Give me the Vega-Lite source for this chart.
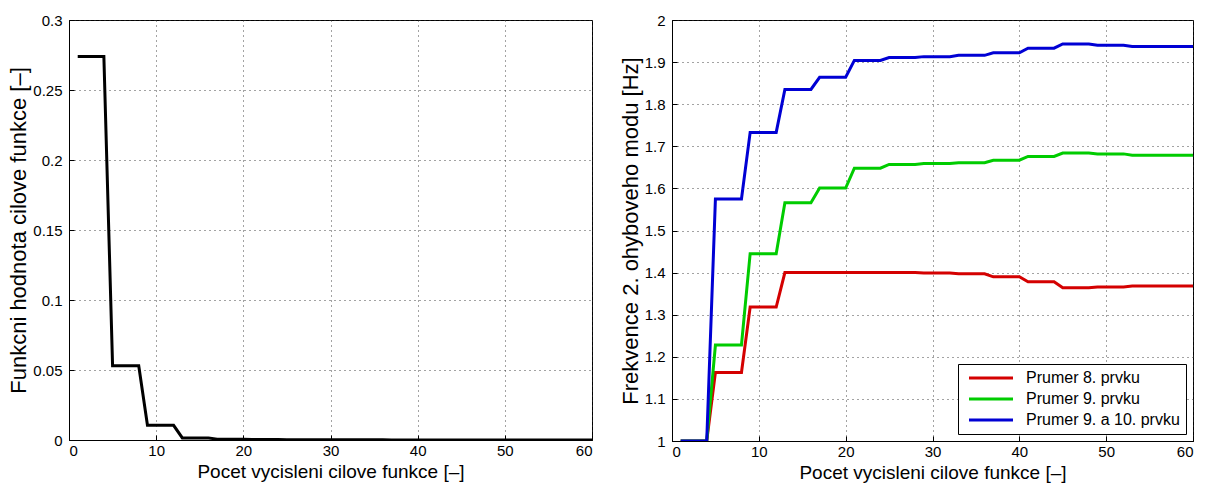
{
  "$schema": "https://vega.github.io/schema/vega-lite/v6.json",
  "background": "white",
  "padding": {"left": 7, "top": 12, "right": 5, "bottom": 0},
  "spacing": 25,
  "resolve": {"legend": {"color": "independent"}},
  "config": {
    "font": "Liberation Sans",
    "view": {"stroke": "black", "strokeWidth": 1},
    "axis": {
      "labelFont": "Liberation Sans", "labelFontSize": 15, "labelColor": "black",
      "titleFont": "Liberation Sans", "titleFontWeight": "normal", "titleColor": "black",
      "domainColor": "black", "tickColor": "black", "tickSize": -5, "labelPadding": 12,
      "gridColor": "#333", "gridDash": [1, 4], "gridOpacity": 0.9, "gridWidth": 1
    },
    "axisX": {"titleFontSize": 19, "titlePadding": 4, "labelPadding": 8},
    "axisY": {"titleFontSize": 22, "titlePadding": 2},
    "legend": {"labelFont": "Liberation Sans", "labelFontSize": 16, "labelColor": "black"}
  },
  "datasets": {
    "left": [
      {"x": 1, "v": 0.274}, {"x": 4, "v": 0.274},
      {"x": 5, "v": 0.053}, {"x": 8, "v": 0.053},
      {"x": 9, "v": 0.0105}, {"x": 12, "v": 0.0105},
      {"x": 13, "v": 0.0015}, {"x": 16, "v": 0.0015},
      {"x": 17, "v": 0.0006}, {"x": 20, "v": 0.0006},
      {"x": 21, "v": 0.0003}, {"x": 24, "v": 0.0003},
      {"x": 25, "v": 0.0002}, {"x": 28, "v": 0.0002},
      {"x": 29, "v": 0.0001}, {"x": 32, "v": 0.0001},
      {"x": 33, "v": 0.0001}, {"x": 36, "v": 0.0001},
      {"x": 37, "v": 0.00005}, {"x": 40, "v": 0.00005},
      {"x": 41, "v": 0.00003}, {"x": 44, "v": 0.00003},
      {"x": 45, "v": 0.00002}, {"x": 48, "v": 0.00002},
      {"x": 49, "v": 0.00001}, {"x": 52, "v": 0.00001},
      {"x": 53, "v": 0.00001}, {"x": 56, "v": 0.00001},
      {"x": 57, "v": 0.00001}, {"x": 60, "v": 0.00001}
    ],
    "right": [
      {"x": 1, "s": "Prumer 8. prvku", "f": 1.0}, {"x": 4, "s": "Prumer 8. prvku", "f": 1.0},
      {"x": 5, "s": "Prumer 8. prvku", "f": 1.163}, {"x": 8, "s": "Prumer 8. prvku", "f": 1.163},
      {"x": 9, "s": "Prumer 8. prvku", "f": 1.318}, {"x": 12, "s": "Prumer 8. prvku", "f": 1.318},
      {"x": 13, "s": "Prumer 8. prvku", "f": 1.4}, {"x": 16, "s": "Prumer 8. prvku", "f": 1.4},
      {"x": 17, "s": "Prumer 8. prvku", "f": 1.4}, {"x": 20, "s": "Prumer 8. prvku", "f": 1.4},
      {"x": 21, "s": "Prumer 8. prvku", "f": 1.4}, {"x": 24, "s": "Prumer 8. prvku", "f": 1.4},
      {"x": 25, "s": "Prumer 8. prvku", "f": 1.4}, {"x": 28, "s": "Prumer 8. prvku", "f": 1.4},
      {"x": 29, "s": "Prumer 8. prvku", "f": 1.399}, {"x": 32, "s": "Prumer 8. prvku", "f": 1.399},
      {"x": 33, "s": "Prumer 8. prvku", "f": 1.397}, {"x": 36, "s": "Prumer 8. prvku", "f": 1.397},
      {"x": 37, "s": "Prumer 8. prvku", "f": 1.39}, {"x": 40, "s": "Prumer 8. prvku", "f": 1.39},
      {"x": 41, "s": "Prumer 8. prvku", "f": 1.378}, {"x": 44, "s": "Prumer 8. prvku", "f": 1.378},
      {"x": 45, "s": "Prumer 8. prvku", "f": 1.364}, {"x": 48, "s": "Prumer 8. prvku", "f": 1.364},
      {"x": 49, "s": "Prumer 8. prvku", "f": 1.366}, {"x": 52, "s": "Prumer 8. prvku", "f": 1.366},
      {"x": 53, "s": "Prumer 8. prvku", "f": 1.368}, {"x": 56, "s": "Prumer 8. prvku", "f": 1.368},
      {"x": 57, "s": "Prumer 8. prvku", "f": 1.368}, {"x": 60, "s": "Prumer 8. prvku", "f": 1.368},

      {"x": 1, "s": "Prumer 9. prvku", "f": 1.0}, {"x": 4, "s": "Prumer 9. prvku", "f": 1.0},
      {"x": 5, "s": "Prumer 9. prvku", "f": 1.228}, {"x": 8, "s": "Prumer 9. prvku", "f": 1.228},
      {"x": 9, "s": "Prumer 9. prvku", "f": 1.445}, {"x": 12, "s": "Prumer 9. prvku", "f": 1.445},
      {"x": 13, "s": "Prumer 9. prvku", "f": 1.566}, {"x": 16, "s": "Prumer 9. prvku", "f": 1.566},
      {"x": 17, "s": "Prumer 9. prvku", "f": 1.601}, {"x": 20, "s": "Prumer 9. prvku", "f": 1.601},
      {"x": 21, "s": "Prumer 9. prvku", "f": 1.648}, {"x": 24, "s": "Prumer 9. prvku", "f": 1.648},
      {"x": 25, "s": "Prumer 9. prvku", "f": 1.657}, {"x": 28, "s": "Prumer 9. prvku", "f": 1.657},
      {"x": 29, "s": "Prumer 9. prvku", "f": 1.659}, {"x": 32, "s": "Prumer 9. prvku", "f": 1.659},
      {"x": 33, "s": "Prumer 9. prvku", "f": 1.661}, {"x": 36, "s": "Prumer 9. prvku", "f": 1.661},
      {"x": 37, "s": "Prumer 9. prvku", "f": 1.667}, {"x": 40, "s": "Prumer 9. prvku", "f": 1.667},
      {"x": 41, "s": "Prumer 9. prvku", "f": 1.676}, {"x": 44, "s": "Prumer 9. prvku", "f": 1.676},
      {"x": 45, "s": "Prumer 9. prvku", "f": 1.684}, {"x": 48, "s": "Prumer 9. prvku", "f": 1.684},
      {"x": 49, "s": "Prumer 9. prvku", "f": 1.682}, {"x": 52, "s": "Prumer 9. prvku", "f": 1.682},
      {"x": 53, "s": "Prumer 9. prvku", "f": 1.679}, {"x": 56, "s": "Prumer 9. prvku", "f": 1.679},
      {"x": 57, "s": "Prumer 9. prvku", "f": 1.679}, {"x": 60, "s": "Prumer 9. prvku", "f": 1.679},

      {"x": 1, "s": "Prumer 9. a 10. prvku", "f": 1.0}, {"x": 4, "s": "Prumer 9. a 10. prvku", "f": 1.0},
      {"x": 5, "s": "Prumer 9. a 10. prvku", "f": 1.575}, {"x": 8, "s": "Prumer 9. a 10. prvku", "f": 1.575},
      {"x": 9, "s": "Prumer 9. a 10. prvku", "f": 1.733}, {"x": 12, "s": "Prumer 9. a 10. prvku", "f": 1.733},
      {"x": 13, "s": "Prumer 9. a 10. prvku", "f": 1.835}, {"x": 16, "s": "Prumer 9. a 10. prvku", "f": 1.835},
      {"x": 17, "s": "Prumer 9. a 10. prvku", "f": 1.864}, {"x": 20, "s": "Prumer 9. a 10. prvku", "f": 1.864},
      {"x": 21, "s": "Prumer 9. a 10. prvku", "f": 1.904}, {"x": 24, "s": "Prumer 9. a 10. prvku", "f": 1.904},
      {"x": 25, "s": "Prumer 9. a 10. prvku", "f": 1.911}, {"x": 28, "s": "Prumer 9. a 10. prvku", "f": 1.911},
      {"x": 29, "s": "Prumer 9. a 10. prvku", "f": 1.913}, {"x": 32, "s": "Prumer 9. a 10. prvku", "f": 1.913},
      {"x": 33, "s": "Prumer 9. a 10. prvku", "f": 1.916}, {"x": 36, "s": "Prumer 9. a 10. prvku", "f": 1.916},
      {"x": 37, "s": "Prumer 9. a 10. prvku", "f": 1.922}, {"x": 40, "s": "Prumer 9. a 10. prvku", "f": 1.922},
      {"x": 41, "s": "Prumer 9. a 10. prvku", "f": 1.933}, {"x": 44, "s": "Prumer 9. a 10. prvku", "f": 1.933},
      {"x": 45, "s": "Prumer 9. a 10. prvku", "f": 1.943}, {"x": 48, "s": "Prumer 9. a 10. prvku", "f": 1.943},
      {"x": 49, "s": "Prumer 9. a 10. prvku", "f": 1.940}, {"x": 52, "s": "Prumer 9. a 10. prvku", "f": 1.940},
      {"x": 53, "s": "Prumer 9. a 10. prvku", "f": 1.937}, {"x": 56, "s": "Prumer 9. a 10. prvku", "f": 1.937},
      {"x": 57, "s": "Prumer 9. a 10. prvku", "f": 1.937}, {"x": 60, "s": "Prumer 9. a 10. prvku", "f": 1.937}
    ]
  },
  "hconcat": [
    {
      "width": 523,
      "height": 420,
      "data": {"name": "left"},
      "mark": {"type": "line", "color": "black", "strokeWidth": 3, "clip": true},
      "encoding": {
        "x": {"field": "x", "type": "quantitative", "scale": {"domain": [0, 60], "nice": false},
              "axis": {"values": [0, 10, 20, 30, 40, 50, 60], "title": "Pocet vycisleni cilove funkce [–]"}},
        "y": {"field": "v", "type": "quantitative", "scale": {"domain": [0, 0.3], "nice": false},
              "axis": {"values": [0, 0.05, 0.1, 0.15, 0.2, 0.25, 0.3], "format": "~g", "title": "Funkcni hodnota cilove funkce [–]"}}
      }
    },
    {
      "width": 521,
      "height": 421,
      "data": {"name": "right"},
      "mark": {"type": "line", "strokeWidth": 3, "clip": true},
      "encoding": {
        "x": {"field": "x", "type": "quantitative", "scale": {"domain": [0, 60], "nice": false},
              "axis": {"values": [0, 10, 20, 30, 40, 50, 60], "title": "Pocet vycisleni cilove funkce [–]"}},
        "y": {"field": "f", "type": "quantitative", "scale": {"domain": [1, 2], "nice": false},
              "axis": {"values": [1, 1.1, 1.2, 1.3, 1.4, 1.5, 1.6, 1.7, 1.8, 1.9, 2], "format": "~g", "title": "Frekvence 2. ohyboveho modu [Hz]"}},
        "color": {
          "field": "s", "type": "nominal",
          "sort": ["Prumer 8. prvku", "Prumer 9. prvku", "Prumer 9. a 10. prvku"],
          "scale": {"domain": ["Prumer 8. prvku", "Prumer 9. prvku", "Prumer 9. a 10. prvku"], "range": ["#d40000", "#00cc00", "#0000d4"]},
          "legend": {
            "title": null, "orient": "bottom-right", "offset": 7,
            "fillColor": "white", "strokeColor": "black", "padding": 6,
            "symbolType": "M-4,0H4", "symbolSize": 121, "symbolStrokeWidth": 3,
            "symbolOffset": 19, "labelOffset": 27,
            "rowPadding": 5
          }
        }
      }
    }
  ]
}
